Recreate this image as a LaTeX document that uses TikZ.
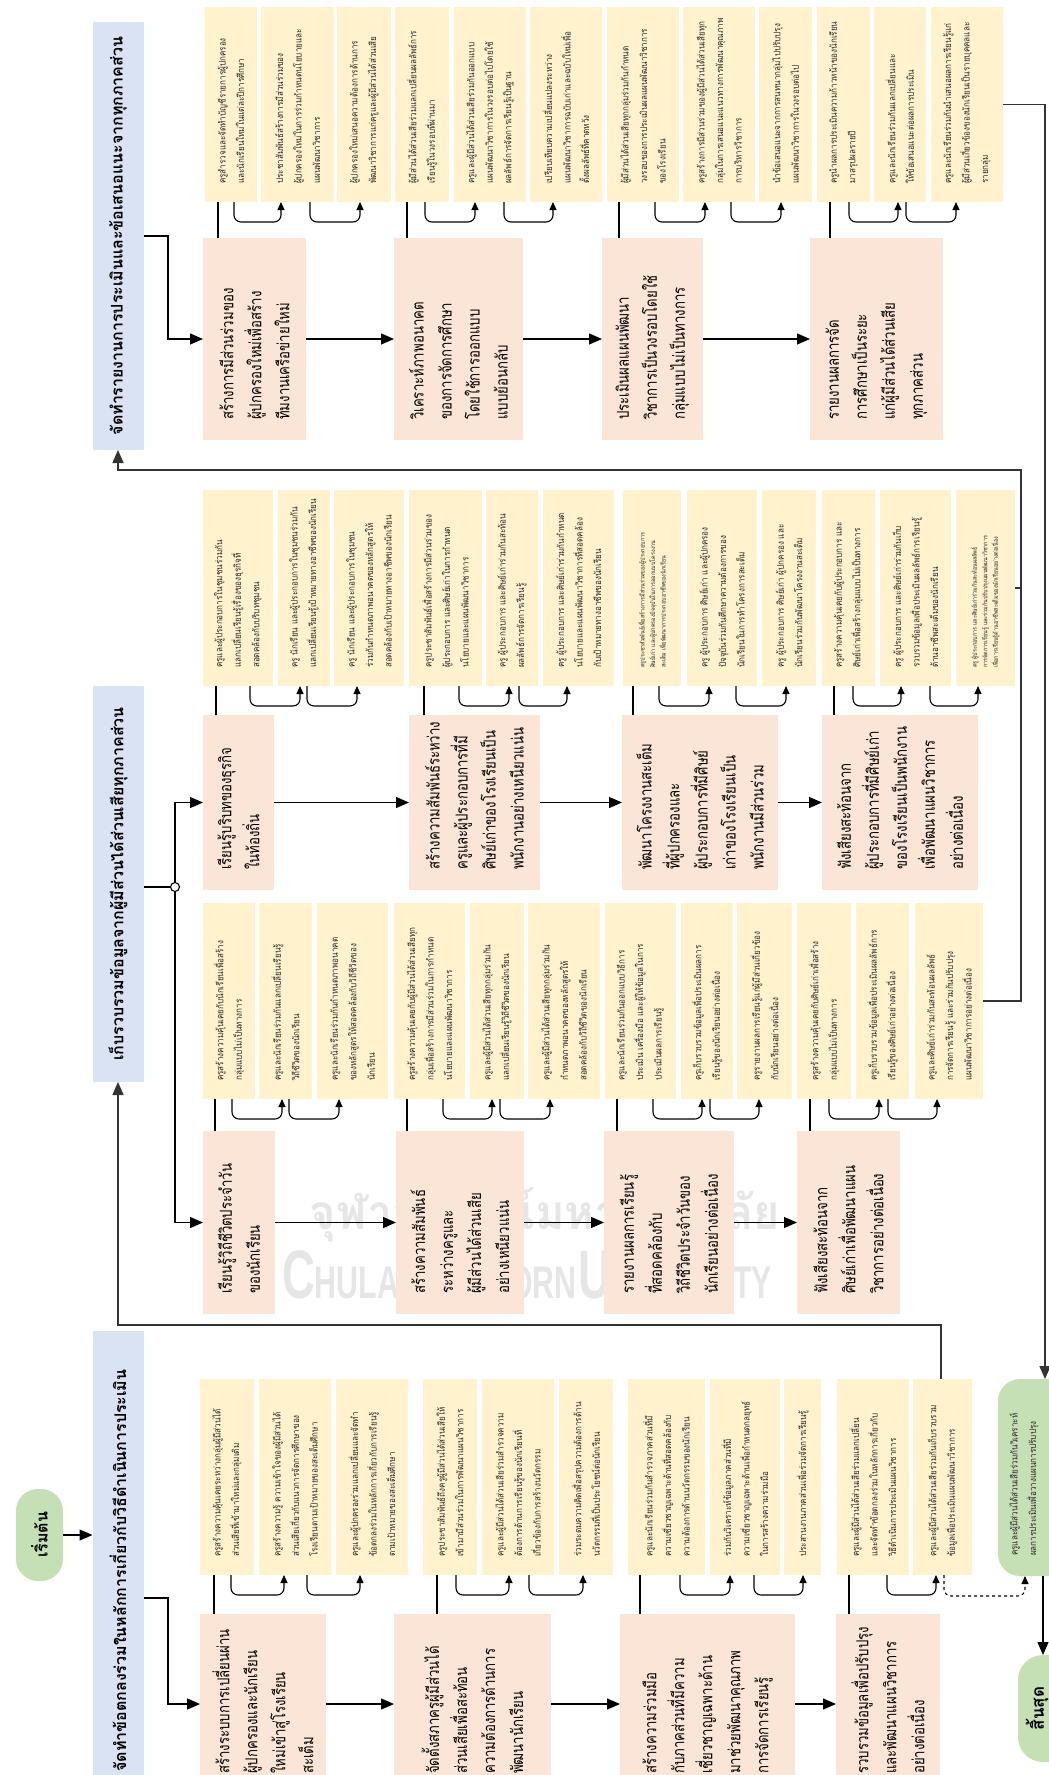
\documentclass[tikz,border=0pt]{standalone}
\usepackage{fontspec}
\setmainfont{Liberation Sans}
\newfontfamily\thai[Script=Thai]{Loma}
\newfontfamily\thaip[Script=Thai,FakeStretch=0.8]{Loma}
\newfontfamily\thaiy[Script=Thai,FakeStretch=0.88]{Loma}
\usetikzlibrary{arrows.meta}
\definecolor{yel}{HTML}{FFF2CC}
\definecolor{pnk}{HTML}{FBE5D6}
\definecolor{hdr}{HTML}{DAE3F3}
\definecolor{grn}{HTML}{C5E0B4}
\definecolor{wmk}{HTML}{E6E6E6}
\newcommand\mkyb[7][]{%
  \node[ybx,minimum width={(#4-#3)*1pt},minimum height={(#6-#5)*1pt}] (#2) at ({(#3+#4)/2},{(#5+#6)/2}) {};
  \node[ytx,#1] (#2t) at ([yshift=18pt]#2.south) {#7};}
\newcommand\mkpb[6]{%
  \node[pbx,minimum width={(#3-#2)*1pt},minimum height={(#5-#4)*1pt}] (#1) at ({(#2+#3)/2},{(#4+#5)/2}) {};
  \node[ptx] (#1t) at ([yshift=20pt]#1.south) {#6};}
\newcommand\mklp[5]{\draw[lp] (#1.south -| #3,0) |- (#4,#5) -- (#2.south -| #4,0);}
\newcommand\mkpl[3]{\draw[pl] (#1.north -| #3,0) -- (#2.south -| #3,0);}
\begin{document}
\begin{tikzpicture}[x=1pt,y=-1pt,
  ybx/.style={fill=yel,draw=none,inner sep=0pt,outer sep=0pt},
  pbx/.style={fill=pnk,draw=none,inner sep=0pt,outer sep=0pt},
  hbx/.style={fill=hdr,draw=none,inner sep=0pt,outer sep=0pt},
  gbx/.style={fill=grn,draw=none,inner sep=0pt,outer sep=0pt},
  ytx/.style={rotate=90,anchor=west,align=left,inner sep=0pt,font=\thaiy\fontsize{9.2}{18.5}\selectfont,text=black!85},
  tiny/.style={font=\thaiy\fontsize{6.2}{10.5}\selectfont},
  ptx/.style={rotate=90,anchor=west,align=left,inner sep=0pt,font=\thaip\fontsize{16.5}{28}\selectfont},
  htx/.style={rotate=90,inner sep=0pt,font=\thai\bfseries\fontsize{16}{20}\selectfont},
  marr/.style={draw=black,line width=1.2pt,-{Triangle[length=13pt,width=11pt]}},
  lp/.style={draw=black,line width=1.1pt,rounded corners=7pt,-{Triangle[length=8pt,width=7pt]}},
  pl/.style={draw=black,line width=1.1pt},
  fb/.style={draw=black!80,line width=1.6pt,-{Triangle[length=13pt,width=11pt]}},
  fbn/.style={draw=black!80,line width=1.6pt},
  dsh/.style={draw=black,line width=1.1pt,dashed,rounded corners=7pt,-{Triangle[length=8pt,width=7pt]}}]
\useasboundingbox (0,0) rectangle (1049,1775);
\clip (0,0) rectangle (1049,1775);
% watermark
\node[text=wmk,inner sep=0pt] (wm1) at (545,1215) {\resizebox{470pt}{42pt}{\thai\bfseries จุฬาลงกรณ์มหาวิทยาลัย}};
\node[text=wmk,inner sep=0pt] (wm2) at (527,1275) {\resizebox{490pt}{48pt}{\bfseries{\fontsize{60}{60}\selectfont C}{\fontsize{40}{40}\selectfont HULALONGKORN} {\fontsize{60}{60}\selectfont U}{\fontsize{40}{40}\selectfont NIVERSITY}}};
% headers
\node[hbx,minimum width=51pt,minimum height=428pt] (h3) at (118,236) {};
\node[htx] (h3t) at (h3) {จัดทำรายงานการประเมินและข้อเสนอแนะจากทุกภาคส่วน};
\node[hbx,minimum width=51pt,minimum height=396pt] (h2) at (118,884) {};
\node[htx] (h2t) at (h2) {เก็บรวบรวมข้อมูลจากผู้มีส่วนได้ส่วนเสียทุกภาคส่วน};
\node[hbx,minimum width=51pt,minimum height=479pt] (h1) at (118,1570.5) {};
\node[htx] (h1t) at (h1) {จัดทำข้อตกลงร่วมในหลักการเกี่ยวกับวิธีดำเนินการประเมิน};
% start / green / end
\node[gbx,rounded corners=22pt,minimum width=47pt,minimum height=92pt] (st) at (39.5,1535) {};
\node[htx] (stt) at (st) {เริ่มต้น};
\node[gbx,rounded corners=22pt,minimum width=92pt,minimum height=197pt] (g) at (1044,1477.5) {};
\node[ytx] (gt) at (1024,1556) {ครูและผู้มีส่วนได้ส่วนเสียร่วมกันวิเคราะห์\\ผลการประเมินเพื่อวางแผนการปรับปรุง};
\node[gbx,rounded corners=25pt,minimum width=57pt,minimum height=107pt] (e) at (1046.5,1708.5) {};
\node[htx,font=\thai\bfseries\fontsize{17}{20}\selectfont] (et) at (1037,1708.5) {สิ้นสุด};
% ---------------- section 3 ----------------
\mkyb{ya}{205}{257}{7}{202}{ครูสำรวจและจัดทำบัญชีรายการผู้ปกครอง\\และนักเรียนใหม่ในแต่ละปีการศึกษา}
\mkyb{yb}{261}{334}{7}{202}{ประชาสัมพันธ์สร้างการมีส่วนร่วมของ\\ผู้ปกครองใหม่ในการร่วมกำหนดนโยบายและ\\แผนพัฒนาวิชาการ}
\mkyb{yc}{337}{391}{7}{202}{ผู้ปกครองใหม่เสนอความต้องการด้านการ\\พัฒนาวิชาการแก่ครูและผู้มีส่วนได้ส่วนเสีย}
\mkyb{yd}{395}{449}{7}{202}{ผู้มีส่วนได้ส่วนเสียร่วมแลกเปลี่ยนผลลัพธ์การ\\เรียนรู้ในวงรอบที่ผ่านมา}
\mkyb{ye}{454}{526}{7}{202}{ครูและผู้มีส่วนได้ส่วนเสียร่วมกันออกแบบ\\แผนพัฒนาวิชาการในวงรอบต่อไปโดยใช้\\ผลลัพธ์การจัดการเรียนรู้เป็นฐาน}
\mkyb{yf}{530}{602}{7}{202}{เปรียบเทียบความเปลี่ยนแปลงระหว่าง\\แผนพัฒนาวิชาการฉบับเก่าและฉบับใหม่เพื่อ\\ตั้งผลลัพธ์ที่คาดหวัง}
\mkyb{yg}{607}{679}{7}{202}{ผู้มีส่วนได้ส่วนเสียทุกกลุ่มร่วมกันกำหนด\\วงรอบของการประเมินผลแผนพัฒนาวิชาการ\\ของโรงเรียน}
\mkyb{yh}{683}{755}{7}{202}{ครูสร้างการมีส่วนร่วมของผู้มีส่วนได้ส่วนเสียทุก\\กลุ่มในการเสนอแนะแนวทางการพัฒนาคุณภาพ\\การบริหารวิชาการ}
\mkyb{yi}{759}{812}{7}{202}{นำข้อเสนอแนะจากการสนทนากลุ่มไปปรับปรุง\\แผนพัฒนาวิชาการในวงรอบต่อไป}
\mkyb{yj}{817}{870}{7}{202}{ครูนำผลการประเมินความก้าวหน้าของนักเรียน\\มาสรุปผลรายปี}
\mkyb{yk}{874}{926}{7}{202}{ครูและนักเรียนร่วมกันแลกเปลี่ยนและ\\ให้ข้อเสนอแนะต่อผลการประเมิน}
\mkyb{yl}{931}{1003}{7}{202}{ครูและนักเรียนร่วมกันนำเสนอผลการเรียนรู้แก่\\ผู้มีส่วนเกี่ยวข้องของนักเรียนเป็นรายบุคคลและ\\รายกลุ่ม}
\mkpb{pa}{203}{306}{238}{440}{สร้างการมีส่วนร่วมของ\\ผู้ปกครองใหม่เพื่อสร้าง\\ทีมงานเครือข่ายใหม่}
\mkpb{pb}{394}{523}{238}{440}{วิเคราะห์ภาพอนาคต\\ของการจัดการศึกษา\\โดยใช้การออกแบบ\\แบบย้อนกลับ}
\mkpb{pc}{602}{703}{238}{440}{ประเมินผลแผนพัฒนา\\วิชาการเป็นวงรอบโดยใช้\\กลุ่มแบบไม่เป็นทางการ}
\mkpb{pd}{810}{943}{238}{440}{รายงานผลการจัด\\การศึกษาเป็นระยะ\\แก่ผู้มีส่วนได้ส่วนเสีย\\ทุกภาคส่วน}
\mkpl{pa}{ya}{218} \mklp{ya}{yb}{234}{281}{222} \mklp{yb}{yc}{310}{360}{222}
\mkpl{pb}{yd}{407} \mklp{yd}{ye}{425}{475}{222} \mklp{ye}{yf}{504}{553}{222}
\mkpl{pc}{yg}{619} \mklp{yg}{yh}{655}{705}{222} \mklp{yh}{yi}{731}{781}{222}
\mkpl{pd}{yj}{830} \mklp{yj}{yk}{849}{898}{222} \mklp{yk}{yl}{906}{956}{222}
\draw[marr] (h3.east |- 0,236) -- (168,236) |- (pa.west);
\draw[marr] (pa.east) -- (pb.west);
\draw[marr] (pb.east) -- (pc.west);
\draw[marr] (pc.east) -- (pd.west);
% ---------------- section 2 top ----------------
\mkyb{ta}{203}{273}{490}{686}{ครูและผู้ประกอบการในชุมชนร่วมกัน\\แลกเปลี่ยนเรียนรู้เรื่องของธุรกิจที่\\สอดคล้องกับบริบทชุมชน}
\mkyb{tb}{278}{330}{490}{686}{ครู นักเรียน และผู้ประกอบการในชุมชนร่วมกัน\\แลกเปลี่ยนเรียนรู้เป้าหมายทางอาชีพของนักเรียน}
\mkyb{tc}{334}{404}{490}{686}{ครู นักเรียน และผู้ประกอบการในชุมชน\\ร่วมกันกำหนดภาพอนาคตของหลักสูตรให้\\สอดคล้องกับเป้าหมายทางอาชีพของนักเรียน}
\mkyb{td}{409}{482}{490}{686}{ครูประชาสัมพันธ์เพื่อสร้างการมีส่วนร่วมของ\\ผู้ประกอบการ และศิษย์เก่าในการกำหนด\\นโยบายและแผนพัฒนาวิชาการ}
\mkyb{te}{486}{538}{490}{686}{ครู ผู้ประกอบการ และศิษย์เก่าร่วมกันสะท้อน\\ผลลัพธ์การจัดการเรียนรู้}
\mkyb{tf}{543}{614}{490}{686}{ครู ผู้ประกอบการ และศิษย์เก่าร่วมกันกำหนด\\นโยบายและแผนพัฒนาวิชาการที่สอดคล้อง\\กับเป้าหมายทางอาชีพของนักเรียน}
\mkyb[tiny]{tg}{623}{681}{490}{686}{ครูประชาสัมพันธ์เพื่อสร้างการมีส่วนร่วมของผู้ประกอบการ\\ศิษย์เก่า และผู้ปกครองปัจจุบันในการออกแบบโครงงาน\\สะเต็ม เพื่อพัฒนาการประกอบอาชีพของนักเรียน}
\mkyb{th}{687}{757}{490}{686}{ครู ผู้ประกอบการ ศิษย์เก่า และผู้ปกครอง\\ปัจจุบันร่วมกันศึกษาความต้องการของ\\นักเรียนในการทำโครงการสะเต็ม}
\mkyb{ti}{762}{816}{490}{686}{ครู ผู้ประกอบการ ศิษย์เก่า ผู้ปกครอง และ\\นักเรียนร่วมกันพัฒนาโครงงานสะเต็ม}
\mkyb{tj}{822}{875}{490}{686}{ครูสร้างความคุ้นเคยกับผู้ประกอบการ และ\\ศิษย์เก่าเพื่อสร้างกลุ่มแบบไม่เป็นทางการ}
\mkyb{tk}{880}{951}{490}{686}{ครู ผู้ประกอบการ และศิษย์เก่าร่วมกันเก็บ\\รวบรวมข้อมูลเพื่อประเมินผลลัพธ์การเรียนรู้\\ด้านอาชีพสะเต็มของนักเรียน}
\mkyb[tiny]{tl}{956}{1015}{490}{686}{ครู ผู้ประกอบการ และศิษย์เก่าร่วมกันสะท้อนผลลัพธ์\\การจัดการเรียนรู้ และร่วมกันปรับปรุงแผนพัฒนาวิชาการ\\เพื่อการเรียนรู้ด้านอาชีพสะเต็มของนักเรียนอย่างต่อเนื่อง}
\mkpb{qa}{203}{274}{715}{890}{เรียนรู้บริบทของธุรกิจ\\ในท้องถิ่น}
\mkpb{qb}{409}{540}{715}{890}{สร้างความสัมพันธ์ระหว่าง\\ครูและผู้ประกอบการที่มี\\ศิษย์เก่าของโรงเรียนเป็น\\พนักงานอย่างเหนียวแน่น}
\mkpb{qc}{622}{778}{715}{890}{พัฒนาโครงงานสะเต็ม\\ที่ผู้ปกครองและ\\ผู้ประกอบการที่มีศิษย์\\เก่าของโรงเรียนเป็น\\พนักงานมีส่วนร่วม}
\mkpb{qd}{822}{978}{715}{890}{ฟังเสียงสะท้อนจาก\\ผู้ประกอบการที่มีศิษย์เก่า\\ของโรงเรียนเป็นพนักงาน\\เพื่อพัฒนาแผนวิชาการ\\อย่างต่อเนื่อง}
\mkpl{qa}{ta}{216} \mklp{ta}{tb}{250}{300}{706} \mklp{tb}{tc}{307}{357}{706}
\mkpl{qb}{td}{424} \mklp{td}{te}{459}{509}{706} \mklp{te}{tf}{519}{567}{706}
\mkpl{qc}{tg}{633} \mklp{tg}{th}{659}{709}{706} \mklp{th}{ti}{736}{786}{706}
\mkpl{qd}{tj}{834} \mklp{tj}{tk}{853}{901}{706} \mklp{tk}{tl}{930}{978}{706}
\draw[marr] (qa.east) -- (qb.west);
\draw[marr] (qb.east) -- (qc.west);
\draw[marr] (qc.east) -- (qd.west);
% ---------------- section 2 bottom ----------------
\mkyb{ba}{203}{255}{903}{1099}{ครูสร้างความคุ้นเคยกับนักเรียนเพื่อสร้าง\\กลุ่มแบบไม่เป็นทางการ}
\mkyb{bb}{259}{312}{903}{1099}{ครูและนักเรียนร่วมกันแลกเปลี่ยนเรียนรู้\\วิถีชีวิตของนักเรียน}
\mkyb{bc}{317}{388}{903}{1099}{ครูและนักเรียนร่วมกันกำหนดภาพอนาคต\\ของหลักสูตรให้สอดคล้องกับวิถีชีวิตของ\\นักเรียน}
\mkyb{bd}{394}{465}{903}{1099}{ครูสร้างความคุ้นเคยกับผู้มีส่วนได้ส่วนเสียทุก\\กลุ่มเพื่อสร้างการมีส่วนร่วมในการกำหนด\\นโยบายและแผนพัฒนาวิชาการ}
\mkyb{be}{470}{524}{903}{1099}{ครูและผู้มีส่วนได้ส่วนเสียทุกกลุ่มร่วมกัน\\แลกเปลี่ยนเรียนรู้วิถีชีวิตของนักเรียน}
\mkyb{bf}{528}{600}{903}{1099}{ครูและผู้มีส่วนได้ส่วนเสียทุกกลุ่มร่วมกัน\\กำหนดภาพอนาคตของหลักสูตรให้\\สอดคล้องกับวิถีชีวิตของนักเรียน}
\mkyb{bg}{605}{676}{903}{1099}{ครูและนักเรียนร่วมกันออกแบบวิธีการ\\ประเมิน เครื่องมือ และผู้ให้ข้อมูลในการ\\ประเมินผลการเรียนรู้}
\mkyb{bh}{681}{733}{903}{1099}{ครูเก็บรวบรวมข้อมูลเพื่อประเมินผลการ\\เรียนรู้ของนักเรียนอย่างต่อเนื่อง}
\mkyb{bi}{737}{792}{903}{1099}{ครูรายงานผลการเรียนรู้แก่ผู้มีส่วนเกี่ยวข้อง\\กับนักเรียนอย่างต่อเนื่อง}
\mkyb{bj}{797}{851}{903}{1099}{ครูสร้างความคุ้นเคยกับศิษย์เก่าเพื่อสร้าง\\กลุ่มแบบไม่เป็นทางการ}
\mkyb{bk}{856}{909}{903}{1099}{ครูเก็บรวบรวมข้อมูลเพื่อประเมินผลลัพธ์การ\\เรียนรู้ของศิษย์เก่าอย่างต่อเนื่อง}
\mkyb{bl}{915}{983}{903}{1099}{ครูและศิษย์เก่าร่วมกันสะท้อนผลลัพธ์\\การจัดการเรียนรู้ และร่วมกันปรับปรุง\\แผนพัฒนาวิชาการอย่างต่อเนื่อง}
\mkpb{ra}{203}{275}{1131}{1314}{เรียนรู้วิถีชีวิตประจำวัน\\ของนักเรียน}
\mkpb{rb}{396}{524}{1131}{1314}{สร้างความสัมพันธ์\\ระหว่างครูและ\\ผู้มีส่วนได้ส่วนเสีย\\อย่างเหนียวแน่น}
\mkpb{rc}{604}{734}{1131}{1314}{รายงานผลการเรียนรู้\\ที่สอดคล้องกับ\\วิถีชีวิตประจำวันของ\\นักเรียนอย่างต่อเนื่อง}
\mkpb{rd}{797}{900}{1131}{1314}{ฟังเสียงสะท้อนจาก\\ศิษย์เก่าเพื่อพัฒนาแผน\\วิชาการอย่างต่อเนื่อง}
\mkpl{ra}{ba}{215} \mklp{ba}{bb}{232}{282}{1119} \mklp{bb}{bc}{289}{339}{1119}
\mkpl{rb}{bd}{407} \mklp{bd}{be}{443}{492}{1119} \mklp{be}{bf}{500}{550}{1119}
\mkpl{rc}{bg}{617} \mklp{bg}{bh}{653}{702}{1119} \mklp{bh}{bi}{710}{759}{1119}
\mkpl{rd}{bj}{810} \mklp{bj}{bk}{829}{879}{1119} \mklp{bk}{bl}{888}{937}{1119}
\draw[marr] (ra.east) -- (rb.west);
\draw[marr] (rb.east) -- (rc.west);
\draw[marr] (rc.east) -- (rd.west);
\node[circle,draw=black,line width=1.1pt,fill=white,inner sep=0pt,minimum size=9pt] (jn) at (175,887) {};
\draw[pl] (h2.east |- jn) -- (jn);
\draw[marr] (jn) |- (qa.west);
\draw[marr] (jn) |- (ra.west);
% ---------------- section 1 ----------------
\mkyb{sa}{200}{254}{1379}{1575}{ครูสร้างความคุ้นเคยระหว่างกลุ่มผู้มีส่วนได้\\ส่วนเสียที่เข้ามาใหม่และกลุ่มเดิม}
\mkyb{sb}{259}{331}{1379}{1575}{ครูสร้างความรู้ ความเข้าใจของผู้มีส่วนได้\\ส่วนเสียเกี่ยวกับแนวการจัดการศึกษาของ\\โรงเรียนตามเป้าหมายของสะเต็มศึกษา}
\mkyb{sc}{336}{408}{1379}{1575}{ครูและผู้ปกครองร่วมแลกเปลี่ยนและจัดทำ\\ข้อตกลงร่วมในหลักการเกี่ยวกับการเรียนรู้\\ตามเป้าหมายของสะเต็มศึกษา}
\mkyb{sd}{423}{477}{1379}{1575}{ครูประชาสัมพันธ์ถึงครูผู้มีส่วนได้ส่วนเสียให้\\เข้ามามีส่วนร่วมในการพัฒนาแผนวิชาการ}
\mkyb{se}{482}{554}{1379}{1575}{ครูและผู้มีส่วนได้ส่วนเสียร่วมสำรวจความ\\ต้องการด้านการเรียนรู้ของนักเรียนที่\\เกี่ยวข้องกับการสร้างนวัตกรรม}
\mkyb{sf}{559}{613}{1379}{1575}{ร่วมระดมความคิดเพื่อสรุปความต้องการด้าน\\นวัตกรรมที่เป็นประโยชน์ต่อนักเรียน}
\mkyb{sg}{628}{705}{1379}{1575}{ครูและนักเรียนร่วมกันสำรวจภาคส่วนที่มี\\ความเชี่ยวชาญเฉพาะด้านที่สอดคล้องกับ\\ความต้องการด้านนวัตกรรมของนักเรียน}
\mkyb{sh}{710}{780}{1379}{1575}{ร่วมกันวิเคราะห์ข้อมูลภาคส่วนที่มี\\ความเชี่ยวชาญเฉพาะด้านเพื่อกำหนดกลยุทธ์\\ในการสร้างความร่วมมือ}
\mkyb{si}{784}{821}{1379}{1575}{ประสานงานภาคส่วนเพื่อร่วมจัดการเรียนรู้}
\mkyb{sj}{837}{909}{1379}{1575}{ครูและผู้มีส่วนได้ส่วนเสียร่วมแลกเปลี่ยน\\และจัดทำข้อตกลงร่วมในหลักการเกี่ยวกับ\\วิธีดำเนินการประเมินแผนวิชาการ}
\mkyb{sk}{913}{972}{1379}{1575}{ครูและผู้มีส่วนได้ส่วนเสียร่วมกันเก็บรวบรวม\\ข้อมูลเพื่อประเมินแผนพัฒนาวิชาการ}
\mkpb{ua}{200}{326}{1614}{1794}{สร้างระบบการเปลี่ยนผ่าน\\ผู้ปกครองและนักเรียน\\ใหม่เข้าสู่โรงเรียน\\สะเต็ม}
\mkpb{ub}{394}{551}{1614}{1794}{จัดตั้งสภาครูผู้มีส่วนได้\\ส่วนเสียเพื่อสะท้อน\\ความต้องการด้านการ\\พัฒนานักเรียน}
\mkpb{uc}{620}{795}{1614}{1794}{สร้างความร่วมมือ\\กับภาคส่วนที่มีความ\\เชี่ยวชาญเฉพาะด้าน\\มาช่วยพัฒนาคุณภาพ\\การจัดการเรียนรู้}
\mkpb{ud}{836}{940}{1614}{1794}{รวบรวมข้อมูลเพื่อปรับปรุง\\และพัฒนาแผนวิชาการ\\อย่างต่อเนื่อง}
\mkpl{ua}{sa}{214} \mklp{sa}{sb}{231}{284}{1595} \mklp{sb}{sc}{307}{360}{1595}
\mkpl{ub}{sd}{437} \mklp{sd}{se}{456}{509}{1595} \mklp{se}{sf}{529}{583}{1595}
\mkpl{uc}{sg}{640} \mklp{sg}{sh}{680}{730}{1595} \mklp{sh}{si}{754}{803}{1595}
\mkpl{ud}{sj}{849} \mklp{sj}{sk}{887}{936}{1595}
\draw[marr] (ua.east) -- (ub.west);
\draw[marr] (ub.east) -- (uc.west);
\draw[marr] (uc.east) -- (ud.west);
\draw[marr] (h1.east |- 0,1598) -- (168,1598) |- (ua.west);
\draw[marr] (st.east) -- (h1.west |- st.east);
% ---------------- feedback / final ----------------
\draw[fb] (sk.north -| 941,0) |- (118,1325) -- (h2.south);
\draw[fbn] (tl.east) -- (1021,588);
\draw[fb] (bl.east) -- (1021,1001) |- (118,470) -- (h3.south);
\draw[fb] (yl.east) -- (1045,104.5) -- (g.north -| 1045,0);
\draw[dsh] (sk.south -| 944,0) |- (1025,1596) -- (g.south -| 1025,0);
\draw[marr] (g.south -| 1043,0) -- (e.north -| 1043,0);
\end{tikzpicture}
\end{document}
